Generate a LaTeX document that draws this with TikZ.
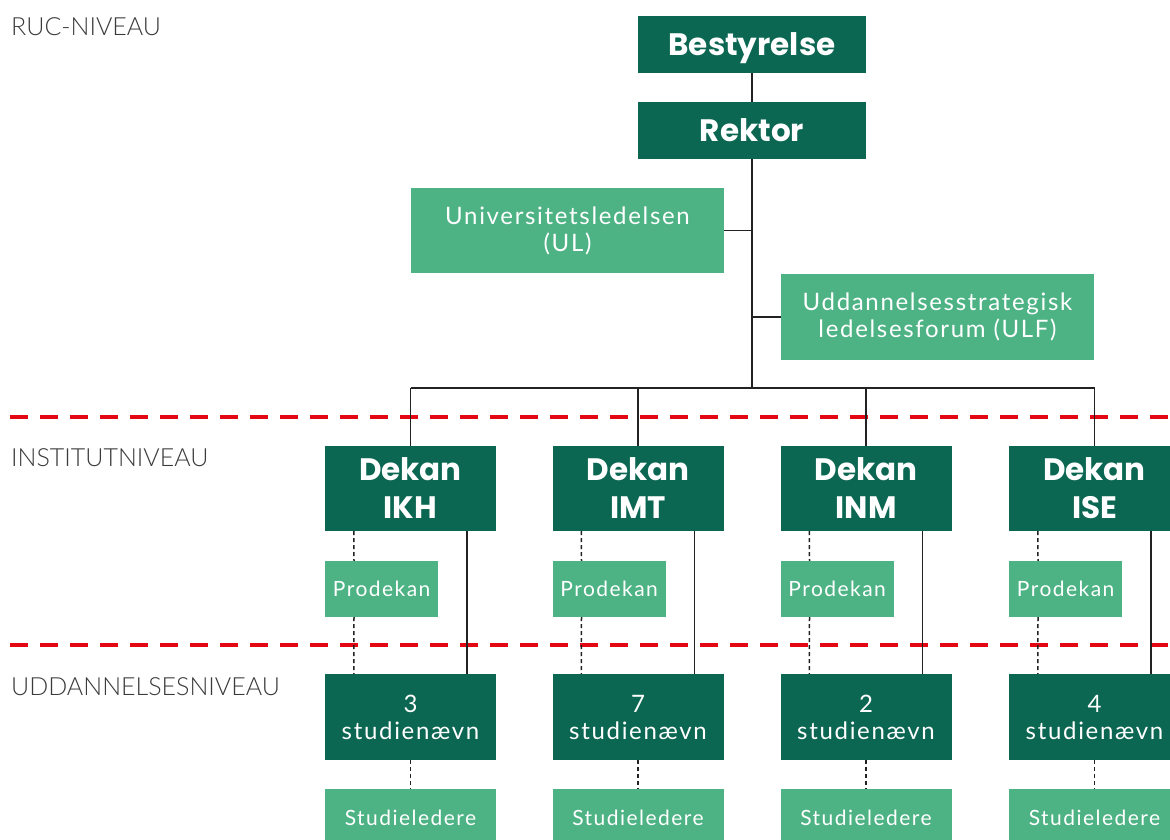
\documentclass[tikz,border=0pt]{standalone}
\usepackage{fontspec}
\usetikzlibrary{calc}
\setmainfont{Lato}
\newfontfamily\titlefont{Poppins}
\newfontfamily\regfont{Lato}[LetterSpace=7]
\newfontfamily\lightfont{Lato}[UprightFont=* Light]
\definecolor{dkgreen}{HTML}{0B6652}
\definecolor{ltgreen}{HTML}{4DB384}
\definecolor{rucred}{HTML}{E30613}
\definecolor{lbl}{HTML}{3A3A3A}
\definecolor{ln}{HTML}{222222}
\tikzset{
  darkbox/.style={fill=dkgreen, text=white, inner sep=0pt, align=center},
  lightbox/.style={fill=ltgreen, text=white, inner sep=0pt, align=center},
  titletext/.style={font=\titlefont\bfseries\fontsize{31}{38}\selectfont},
  regtext/.style={font=\regfont\fontsize{24}{27}\selectfont},
  smalltext/.style={font=\regfont\fontsize{21}{25}\selectfont},
  conn/.style={draw=ln, line width=1.4pt},
  dotconn/.style={draw=ln, line width=1.5pt, dash pattern=on 4pt off 3pt},
  levelline/.style={draw=rucred, line width=4pt, dash pattern=on 18pt off 12pt},
  levellabel/.style={anchor=west, text=lbl, inner sep=0pt, font=\lightfont\fontsize{25}{30}\selectfont},
  topbox/.style={darkbox, titletext, minimum width=228pt, minimum height=57pt, text height=22pt, text depth=0pt}
}
\begin{document}
\begin{tikzpicture}[x=1pt,y=-1pt]
\useasboundingbox (0,0) rectangle (1170,839);
% level lines
\draw[levelline] (10,417) -- (1180,417);
\draw[levelline] (10,645) -- (1180,645);
\node[levellabel] (l1) at (11,27) {RUC-NIVEAU};
\node[levellabel] (l2) at (11,458) {INSTITUTNIVEAU};
\node[levellabel] (l3) at (11,687) {UDDANNELSESNIVEAU};
% top
\node[topbox] (best) at (752,44.5) {Bestyrelse};
\node[topbox] (rek) at (752,130.5) {Rektor};
\node[lightbox, regtext, minimum width=313pt, minimum height=85pt] (ul) at (567.5,230.5) {Universitetsledelsen\\(UL)};
\node[lightbox, regtext, minimum width=313pt, minimum height=86pt] (ulf) at (937.5,317) {Uddannelsesstrategisk\\ledelsesforum (ULF)};
\coordinate (bus) at (752,388);
\draw[conn] (best.south) -- (rek.north);
\draw[conn] (rek.south) -- (bus);
\draw[conn] (ul.east) -- (ul.east -| bus);
\draw[conn] (ulf.west) -- (ulf.west -| bus);
% institutes
\foreach \n/\cx/\inst/\num in {ikh/410.5/IKH/3, imt/638/IMT/7, inm/866/INM/2, ise/1094.5/ISE/4}{
  \node[darkbox, titletext, minimum width=171pt, minimum height=85pt] (d\n) at (\cx,488.5) {Dekan\\\inst};
  \node[lightbox, smalltext, minimum width=113pt, minimum height=56pt, anchor=west] (p\n) at ($(\cx,589)+(-85.5,0)$) {Prodekan};
  \node[darkbox, regtext, minimum width=171pt, minimum height=86pt] (s\n) at (\cx,717) {\num\\studienævn};
  \node[lightbox, smalltext, minimum width=171pt, minimum height=60pt] (l\n) at (\cx,819) {\raisebox{3pt}{Studieledere}};
  \draw[conn] (d\n.north) -- (d\n.north |- bus);
  \draw[dotconn] ($(d\n.south west)+(29,0)$) -- ($(p\n.north west)+(29,0)$);
  \draw[dotconn] ($(p\n.south west)+(29,0)$) -- ($(s\n.north west)+(29,0)$);
  \draw[conn] ($(d\n.south west)+(142,0)$) -- ($(s\n.north west)+(142,0)$);
  \draw[dotconn] (s\n.south) -- (l\n.north);
}
\draw[conn] (dikh.north |- bus) -- (dise.north |- bus);
\end{tikzpicture}
\end{document}
